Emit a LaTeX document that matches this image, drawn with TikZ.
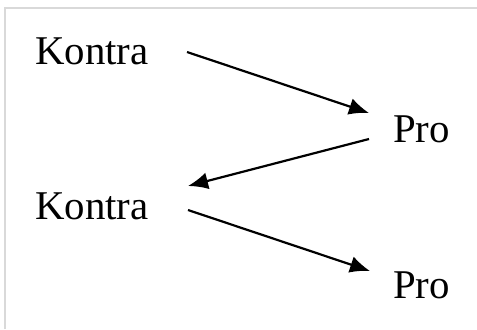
\documentclass[tikz,border=0pt]{standalone}
\usepackage{fontspec}
\setmainfont{Liberation Serif}
\usetikzlibrary{arrows.meta}

\tikzset{
  word/.style={anchor=base west, inner sep=0pt, font=\fontsize{41}{46}\selectfont},
  arr/.style={line width=2.2bp, -{Latex[length=20bp,width=17bp]}},
}

\begin{document}
\begin{tikzpicture}[x=1bp,y=1bp]
    % Canvas
    \useasboundingbox (0,0) rectangle (477,329);
    \fill[white] (0,0) rectangle (477,329);

    % Frame (top and left only)
    \draw[line width=1.5bp, black!15] (5,0) -- (5,321) -- (477,321);

    % Words
    \node[word] (k1) at (35,265) {Kontra};
    \node[word] (p1) at (393,187) {Pro};
    \node[word] (k2) at (35,110) {Kontra};
    \node[word] (p2) at (393,31) {Pro};

    % Arrows
    \draw[arr] ([shift={(152,12)}]k1.base west) -- ([shift={(-24,29)}]p1.base west);
    \draw[arr] ([shift={(-24,3)}]p1.base west) -- ([shift={(153,33)}]k2.base west);
    \draw[arr] ([shift={(153,9)}]k2.base west) -- ([shift={(-23,27)}]p2.base west);
\end{tikzpicture}
\end{document}
